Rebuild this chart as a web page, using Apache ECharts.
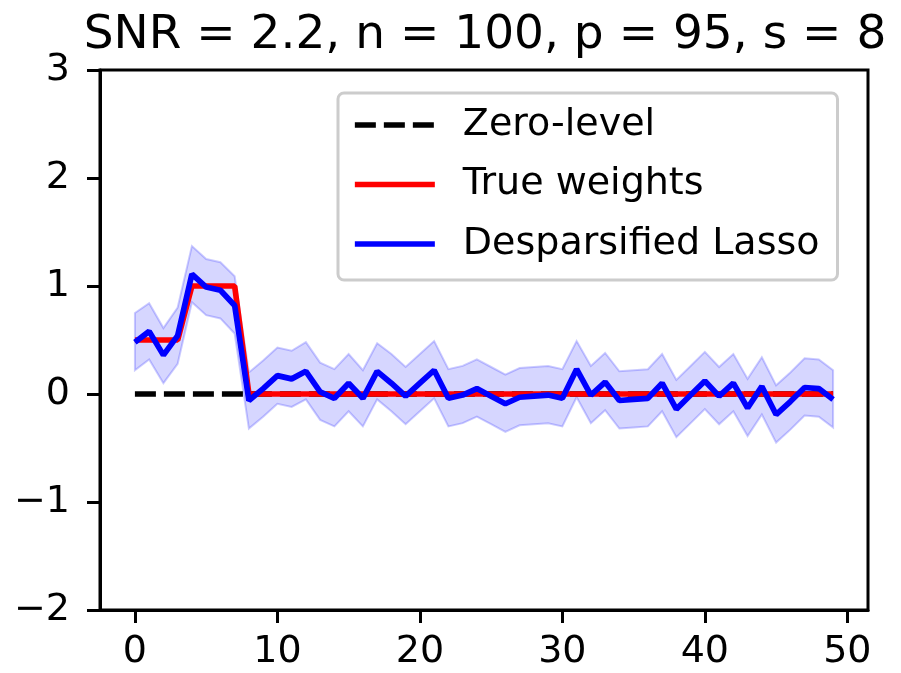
<!DOCTYPE html>
<html lang="en">
<head>
    <meta charset="UTF-8">
    <title>Desparsified Lasso</title>
    <script src="https://cdn.jsdelivr.net/npm/echarts@6/dist/echarts.min.js"></script>
    <style>
        html, body { margin: 0; padding: 0; background: #fff; }
    </style>
</head>
<body>
<div id="content" style="width: 901px; height: 673px;"></div>
<script>
    // weights index 0..49
    var titleText = 'SNR = 2.2, n = 100, p = 95, s = 8';
    var seriesNames = ['Zero-level', 'True weights', 'Desparsified Lasso'];
    var xTicks = [0, 10, 20, 30, 40, 50];
    var yTicks = [-2, -1, 0, 1, 2, 3];

    var trueWeights = [0.5, 0.5, 0.5, 0.5, 1, 1, 1, 1, 0, 0,
        0, 0, 0, 0, 0, 0, 0, 0, 0, 0,
        0, 0, 0, 0, 0, 0, 0, 0, 0, 0,
        0, 0, 0, 0, 0, 0, 0, 0, 0, 0,
        0, 0, 0, 0, 0, 0, 0, 0, 0, 0];
    var zeroLevel = [0, 0, 0, 0, 0, 0, 0, 0, 0, 0,
        0, 0, 0, 0, 0, 0, 0, 0, 0, 0,
        0, 0, 0, 0, 0, 0, 0, 0, 0, 0,
        0, 0, 0, 0, 0, 0, 0, 0, 0, 0,
        0, 0, 0, 0, 0, 0, 0, 0, 0, 0];
    var lassoEst = [0.48, 0.58, 0.36, 0.54, 1.11, 0.99, 0.96, 0.82, -0.06, 0.05,
        0.17, 0.14, 0.21, 0.02, -0.04, 0.10, -0.04, 0.21, 0.10, -0.02,
        0.10, 0.22, -0.04, -0.01, 0.05, -0.02, -0.09, -0.03, -0.02, -0.01,
        -0.04, 0.23, -0.01, 0.11, -0.06, -0.05, -0.04, 0.10, -0.14, -0.01,
        0.12, -0.02, 0.10, -0.13, 0.07, -0.19, -0.07, 0.06, 0.05, -0.05];
    var ciUpper = [0.75, 0.84, 0.61, 0.80, 1.37, 1.25, 1.22, 1.09, 0.20, 0.31,
        0.43, 0.40, 0.48, 0.29, 0.23, 0.37, 0.22, 0.47, 0.37, 0.25,
        0.37, 0.49, 0.23, 0.26, 0.32, 0.25, 0.18, 0.24, 0.25, 0.26,
        0.23, 0.49, 0.26, 0.38, 0.21, 0.22, 0.23, 0.37, 0.13, 0.26,
        0.39, 0.25, 0.37, 0.14, 0.34, 0.08, 0.20, 0.33, 0.32, 0.22];
    var ciLower = [0.22, 0.32, 0.10, 0.28, 0.85, 0.73, 0.70, 0.56, -0.32, -0.21,
        -0.09, -0.12, -0.05, -0.24, -0.30, -0.16, -0.30, -0.05, -0.16, -0.28,
        -0.16, -0.04, -0.30, -0.27, -0.21, -0.28, -0.35, -0.29, -0.28, -0.27,
        -0.30, -0.03, -0.27, -0.15, -0.32, -0.31, -0.30, -0.16, -0.40, -0.27,
        -0.14, -0.28, -0.16, -0.39, -0.19, -0.45, -0.33, -0.20, -0.21, -0.31];

    var myChart = echarts.init(document.getElementById('content'));
    var font = 'DejaVu Sans';

    function pairs(values) {
        var out = [];
        for (var i = 0; i < values.length; i++) {
            out.push([i, values[i]]);
        }
        return out;
    }

    var option = {
        animation: false,
        backgroundColor: '#fff',
        title: {
            text: titleText,
            left: 480,
            textAlign: 'center',
            top: 7,
            textStyle: { fontFamily: font, fontSize: 47, fontWeight: 'normal', color: '#000' }
        },
        legend: {
            data: seriesNames,
            orient: 'vertical',
            left: 338,
            top: 93,
            itemWidth: 80,
            itemHeight: 20,
            itemGap: 19.5,
            padding: [12, 18, 16, 14],
            borderColor: '#cccccc',
            borderWidth: 3,
            borderRadius: 6,
            backgroundColor: 'rgba(255,255,255,0.8)',
            itemStyle: { opacity: 0 },
            lineStyle: { width: 5.7 },
            textStyle: { fontFamily: font, fontSize: 38, color: '#000', lineHeight: 40, padding: [0, 0, 0, 23] }
        },
        grid: {
            left: 100,
            right: 33,
            top: 70,
            bottom: 63,
            show: true,
            borderColor: '#000',
            borderWidth: 3
        },
        xAxis: {
            type: 'value',
            min: -2.45,
            max: 51.45,
            splitLine: { show: false },
            axisLine: { show: true, onZero: false, lineStyle: { color: '#000', width: 3 } },
            axisTick: { show: true, customValues: xTicks, length: 13, lineStyle: { color: '#000', width: 3 } },
            axisLabel: { customValues: xTicks, margin: 23, fontFamily: font, fontSize: 38, color: '#000' }
        },
        yAxis: {
            type: 'value',
            min: -2,
            max: 3,
            splitLine: { show: false },
            axisLine: { show: true, onZero: false, lineStyle: { color: '#000', width: 3 } },
            axisTick: { show: true, customValues: yTicks, length: 13, lineStyle: { color: '#000', width: 3 } },
            axisLabel: {
                customValues: yTicks, margin: 30, fontFamily: font, fontSize: 38, color: '#000',
                formatter: function (v) { return v < 0 ? '\u2212' + Math.abs(v) : String(v); }
            }
        },
        series: [
            {
                type: 'custom',
                silent: true,
                z: 1,
                data: [[0, 0]],
                renderItem: function (params, api) {
                    var pts = [];
                    for (var i = 0; i < ciUpper.length; i++) {
                        pts.push(api.coord([i, ciUpper[i]]));
                    }
                    for (var j = ciLower.length - 1; j >= 0; j--) {
                        pts.push(api.coord([j, ciLower[j]]));
                    }
                    return {
                        type: 'polygon',
                        shape: { points: pts },
                        style: { fill: 'rgba(0,0,255,0.16)', stroke: 'rgba(0,0,255,0.2)', lineWidth: 2 }
                    };
                }
            },
            {
                name: seriesNames[0],
                type: 'line',
                z: 2,
                symbol: 'none',
                data: pairs(zeroLevel),
                itemStyle: { color: '#000' },
                lineStyle: { color: '#000', width: 5.7, type: [21, 8] }
            },
            {
                name: seriesNames[1],
                type: 'line',
                z: 3,
                symbol: 'none',
                data: pairs(trueWeights),
                itemStyle: { color: '#ff0000' },
                lineStyle: { color: '#ff0000', width: 5.7 }
            },
            {
                name: seriesNames[2],
                type: 'line',
                z: 4,
                symbol: 'none',
                data: pairs(lassoEst),
                itemStyle: { color: '#0000ff' },
                lineStyle: { color: '#0000ff', width: 5.7 }
            }
        ]
    };
    myChart.setOption(option);
</script>
</body>
</html>
